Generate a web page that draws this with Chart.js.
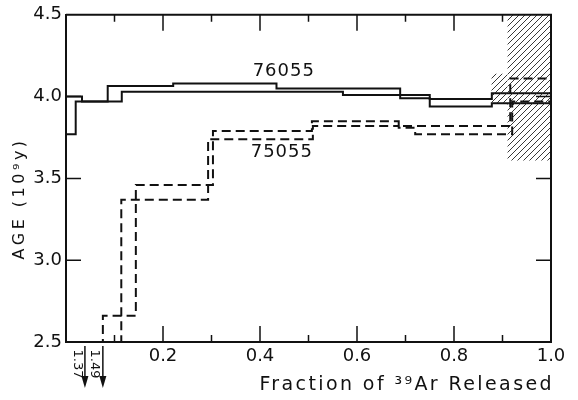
<!DOCTYPE html>
<html>
<head>
<meta charset="utf-8">
<script src="https://cdn.jsdelivr.net/npm/chart.js@4.4.1/dist/chart.umd.min.js"></script>
<style>
  html, body { margin: 0; padding: 0; background: #fff; }
</style>
</head>
<body>
<canvas id="ageChart" width="578" height="400"></canvas>
<script>
// release steps: fraction of 39Ar released (edges) and age in 10^9 y
const edges76a = [0, 0.033, 0.086, 0.221, 0.434, 0.689, 0.75, 0.878, 1.0];
const ages76a  = [4.00, 3.97, 4.065, 4.08, 4.05, 3.99, 3.94, 3.96];
const edges76b = [0, 0.02, 0.115, 0.571, 0.75, 0.878, 1.0];
const ages76b  = [3.77, 3.97, 4.03, 4.01, 3.985, 4.02];
const edges75a = [0, 0.076, 0.144, 0.303, 0.507, 0.686, 0.916, 1.0];
const ages75a  = [1.49, 2.66, 3.46, 3.79, 3.85, 3.82, 4.11];
const edges75b = [0, 0.114, 0.293, 0.509, 0.686, 0.72, 0.92, 1.0];
const ages75b  = [1.37, 3.37, 3.74, 3.82, 3.81, 3.77, 3.97];

// hatched (uncertain) region
const hatchX = [0.91, 1.0];
const hatchAge = [3.61, 4.5];
const hatchX2 = [0.877, 0.91];
const hatchAge2 = [3.96, 4.14];

// axis ticks
const xTickLabels = ['', '0.2', '0.4', '0.6', '0.8', '1.0'];
const yTickLabels = ['2.5', '3.0', '3.5', '4.0', '4.5'];
const xMajorTicks = [0.2, 0.4, 0.6, 0.8];
const xMinorTicks = [0.1, 0.3, 0.5, 0.7, 0.9];
const yMajorTicks = [3.0, 3.5, 4.0];

// sample labels and off-scale ages
const sampleNames = ['76055', '75055'];
const sampleLabelX = [0.449, 0.445];
const sampleLabelAge = [4.152, 3.659];
const offScaleLabels = ['1.37', '1.49'];
const offScaleX = [0.039, 0.076];

const FONT = '"DejaVu Sans", sans-serif';

function steps(edges, ages) {
    const pts = [];
    ages.forEach((a, i) => {
        pts.push({ x: edges[i], y: a });
        pts.push({ x: edges[i + 1], y: a });
    });
    return pts;
}

function hatchPattern() {
    const c = document.createElement('canvas');
    c.width = 6; c.height = 6;
    const g = c.getContext('2d');
    g.strokeStyle = '#222';
    g.lineWidth = 0.9;
    g.beginPath();
    g.moveTo(0, 6); g.lineTo(6, 0);
    g.moveTo(-1, 1); g.lineTo(1, -1);
    g.moveTo(5, 7); g.lineTo(7, 5);
    g.stroke();
    return g.createPattern(c, 'repeat');
}

const extras = {
    id: 'extras',
    afterDraw(chart) {
        const { ctx, chartArea: a, scales: { x, y } } = chart;
        ctx.save();
        ctx.strokeStyle = '#111';
        ctx.fillStyle = '#111';

        // top and right frame
        ctx.lineWidth = 2;
        ctx.beginPath();
        ctx.moveTo(a.left, a.top);
        ctx.lineTo(a.right, a.top);
        ctx.lineTo(a.right, a.bottom);
        ctx.stroke();

        // inward ticks
        ctx.lineWidth = 1.5;
        ctx.beginPath();
        xMajorTicks.forEach(v => {
            const px = x.getPixelForValue(v);
            ctx.moveTo(px, a.top); ctx.lineTo(px, a.top + 16);
            ctx.moveTo(px, a.bottom); ctx.lineTo(px, a.bottom - 16);
        });
        xMinorTicks.forEach(v => {
            const px = x.getPixelForValue(v);
            ctx.moveTo(px, a.top); ctx.lineTo(px, a.top + 7);
            ctx.moveTo(px, a.bottom); ctx.lineTo(px, a.bottom - 7);
        });
        yMajorTicks.forEach(v => {
            const py = y.getPixelForValue(v);
            ctx.moveTo(a.left, py); ctx.lineTo(a.left + 15, py);
            ctx.moveTo(a.right, py); ctx.lineTo(a.right - 15, py);
        });
        ctx.stroke();

        // sample names
        ctx.font = '18px ' + FONT;
        ctx.letterSpacing = '1px';
        ctx.textAlign = 'center';
        ctx.textBaseline = 'middle';
        sampleNames.forEach((s, i) => {
            ctx.fillText(s, x.getPixelForValue(sampleLabelX[i]), y.getPixelForValue(sampleLabelAge[i]));
        });

        // off-scale ages with arrows
        ctx.font = '13px ' + FONT;
        ctx.letterSpacing = '0px';
        offScaleLabels.forEach((s, i) => {
            const px = x.getPixelForValue(offScaleX[i]);
            ctx.lineWidth = 1.5;
            ctx.beginPath();
            ctx.moveTo(px, a.bottom + 4);
            ctx.lineTo(px, a.bottom + 36);
            ctx.stroke();
            ctx.beginPath();
            ctx.moveTo(px - 3.5, a.bottom + 34);
            ctx.lineTo(px + 3.5, a.bottom + 34);
            ctx.lineTo(px, a.bottom + 46);
            ctx.closePath();
            ctx.fill();
            ctx.save();
            ctx.translate(px - 8, a.bottom + 22);
            ctx.rotate(Math.PI / 2);
            ctx.fillText(s, 0, 0);
            ctx.restore();
        });

        // axis titles
        ctx.font = '19px ' + FONT;
        ctx.letterSpacing = '2.4px';
        ctx.textAlign = 'right';
        ctx.fillText('Fraction of \u00b3\u2079Ar Released', a.right + 3, 385);

        ctx.font = '16px ' + FONT;
        ctx.letterSpacing = '3.5px';
        ctx.textAlign = 'center';
        ctx.save();
        ctx.translate(20, (a.top + a.bottom) / 2 + 20);
        ctx.rotate(-Math.PI / 2);
        ctx.fillText('AGE (10\u2079y)', 0, 0);
        ctx.restore();

        ctx.restore();
    }
};

const ctx = document.getElementById('ageChart').getContext('2d');
const hatch = hatchPattern();
const stepStyle = { borderColor: '#111', borderWidth: 2, pointRadius: 0, tension: 0, fill: false };

new Chart(ctx, {
    type: 'line',
    data: {
        datasets: [
            {
                label: 'hatch', data: hatchX.map(v => ({ x: v, y: hatchAge[1] })),
                fill: { value: hatchAge[0] }, backgroundColor: hatch,
                borderColor: 'rgba(0,0,0,0)', borderWidth: 0, pointRadius: 0
            },
            {
                label: 'hatch2', data: hatchX2.map(v => ({ x: v, y: hatchAge2[1] })),
                fill: { value: hatchAge2[0] }, backgroundColor: hatch,
                borderColor: 'rgba(0,0,0,0)', borderWidth: 0, pointRadius: 0
            },
            { label: '76055 a', data: steps(edges76a, ages76a), ...stepStyle },
            { label: '76055 b', data: steps(edges76b, ages76b), ...stepStyle },
            { label: '75055 a', data: steps(edges75a, ages75a), ...stepStyle, borderDash: [9, 5] },
            { label: '75055 b', data: steps(edges75b, ages75b), ...stepStyle, borderDash: [9, 5] }
        ]
    },
    options: {
        responsive: false,
        animation: false,
        layout: { padding: { top: 14, right: 27, bottom: 0, left: 0 } },
        plugins: { legend: { display: false }, tooltip: { enabled: false } },
        scales: {
            x: {
                type: 'linear', min: 0, max: 1,
                grid: { display: false, drawTicks: false },
                border: { display: true, color: '#111', width: 2 },
                ticks: {
                    stepSize: 0.2, autoSkip: false, maxRotation: 0, padding: 4,
                    color: '#111', font: { family: FONT, size: 18 },
                    callback: v => xTickLabels[Math.round(v / 0.2)]
                },
                afterFit: s => { s.height = 58; }
            },
            y: {
                type: 'linear', min: 2.5, max: 4.5,
                grid: { display: false, drawTicks: false },
                border: { display: true, color: '#111', width: 2 },
                ticks: {
                    stepSize: 0.5, autoSkip: false, padding: 4,
                    color: '#111', font: { family: FONT, size: 18 },
                    callback: v => yTickLabels[Math.round((v - 2.5) / 0.5)]
                },
                afterFit: s => { s.width = 66; }
            }
        }
    },
    plugins: [extras]
});
</script>
</body>
</html>
